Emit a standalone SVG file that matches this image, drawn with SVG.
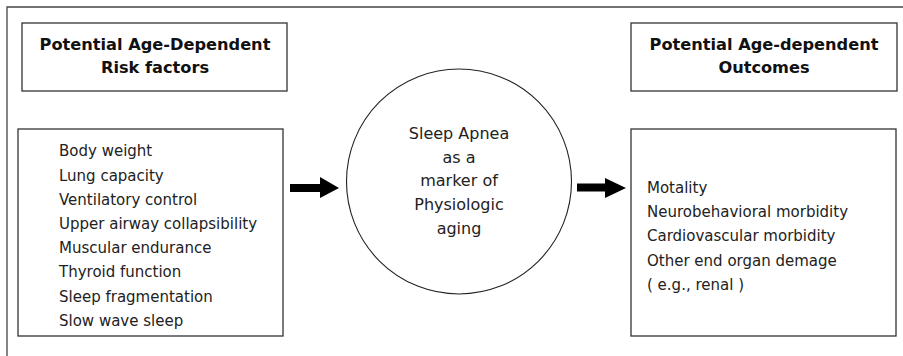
<svg xmlns="http://www.w3.org/2000/svg" width="903" height="356" viewBox="0 0 903 356">
<style>
.box{fill:#fff;stroke:#333;stroke-width:1.3}
.frame{fill:none;stroke:#444;stroke-width:1.3}
.title{font-family:"DejaVu Sans",sans-serif;font-weight:bold;font-size:16.2px;fill:#111;text-anchor:middle}
.item{font-family:"DejaVu Sans",sans-serif;font-size:15px;fill:#222}
.ctext{font-family:"DejaVu Sans",sans-serif;font-size:16px;fill:#222;text-anchor:middle}
.arrow{fill:#000}
</style>
<rect width="903" height="356" fill="#fff"/>
<path class="frame" d="M7 356 V7 H903"/>
<g id="title-risk">
<rect class="box" x="22" y="23" width="265" height="68"/>
<text class="title" x="155" y="50">Potential Age-Dependent</text>
<text class="title" x="155" y="73">Risk factors</text>
</g>
<g id="title-outcomes">
<rect class="box" x="631" y="23" width="266" height="68"/>
<text class="title" x="764" y="50">Potential Age-dependent</text>
<text class="title" x="764" y="73">Outcomes</text>
</g>
<g id="risk-list">
<rect class="box" x="18" y="129" width="265" height="207"/>
<text class="item" x="59" y="156">Body weight</text>
<text class="item" x="59" y="180.5">Lung capacity</text>
<text class="item" x="59" y="204.7">Ventilatory control</text>
<text class="item" x="59" y="229">Upper airway collapsibility</text>
<text class="item" x="59" y="253.2">Muscular endurance</text>
<text class="item" x="59" y="277.4">Thyroid function</text>
<text class="item" x="59" y="301.6">Sleep fragmentation</text>
<text class="item" x="59" y="325.8">Slow wave sleep</text>
</g>
<g id="sleep-apnea">
<circle cx="459" cy="181.5" r="112.5" fill="#fff" stroke="#222" stroke-width="1.1"/>
<text class="ctext" x="459" y="139">Sleep Apnea</text>
<text class="ctext" x="459" y="162.6">as a</text>
<text class="ctext" x="459" y="186.3">marker of</text>
<text class="ctext" x="459" y="210">Physiologic</text>
<text class="ctext" x="459" y="233.5">aging</text>
</g>
<g id="outcome-list">
<rect class="box" x="631" y="129" width="265" height="207"/>
<text class="item" x="647" y="193">Motality</text>
<text class="item" x="647" y="217.2">Neurobehavioral morbidity</text>
<text class="item" x="647" y="241.4">Cardiovascular morbidity</text>
<text class="item" x="647" y="265.6">Other end organ demage</text>
<text class="item" x="647" y="289.8">( e.g., renal )</text>
</g>
<g id="connectors">
<polygon class="arrow" points="290,184 320,184 320,177 339,188 320,198 320,192 290,192"/>
<polygon class="arrow" points="577,183.5 605,183.5 605,178 626,188 605,198 605,191.5 577,191.5"/>
</g>
</svg>
